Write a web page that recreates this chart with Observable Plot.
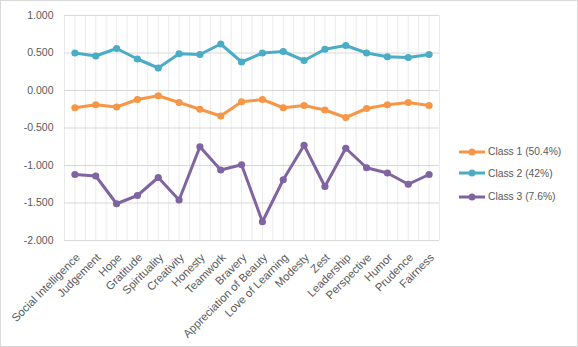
<!DOCTYPE html>
<html>
<head>
<meta charset="utf-8">
<script src="https://cdn.jsdelivr.net/npm/d3@7"></script>
<script src="https://cdn.jsdelivr.net/npm/@observablehq/plot@0.6"></script>
<style>
  html, body { margin: 0; padding: 0; background: #fff; }
  #wrap { position: relative; width: 578px; height: 347px; font-family: "Liberation Sans", Arial, sans-serif; }
  #frame { position: absolute; left: 0; top: 0; width: 576px; height: 345px; border: 1px solid #d9d9d9; pointer-events: none; }
  .leg { position: absolute; left: 458px; height: 14px; display: flex; align-items: center; font-size: 10.3px; color: #595959; white-space: nowrap; }
  .leg svg { margin-right: 2px; }
</style>
</head>
<body>
<div id="wrap"><div id="frame"></div></div>
<script>
const categories = ["Social Intelligence","Judgement","Hope","Gratitude","Spirituality","Creativity","Honesty","Teamwork","Bravery","Appreciation of Beauty","Love of Learning","Modesty","Zest","Leadership","Perspective","Humor","Prudence","Fairness"];
const seriesNames = ["Class 1 (50.4%)","Class 2 (42%)","Class 3 (7.6%)"];
const class1 = [-0.23,-0.19,-0.22,-0.12,-0.07,-0.16,-0.25,-0.34,-0.15,-0.12,-0.23,-0.20,-0.26,-0.36,-0.24,-0.19,-0.16,-0.20];
const class2 = [0.50,0.46,0.56,0.42,0.30,0.49,0.48,0.62,0.38,0.50,0.52,0.40,0.55,0.60,0.50,0.45,0.44,0.48];
const class3 = [-1.12,-1.14,-1.51,-1.40,-1.16,-1.46,-0.75,-1.06,-0.99,-1.75,-1.19,-0.73,-1.28,-0.77,-1.03,-1.10,-1.25,-1.12];
const colors = ["#F79646","#4BACC6","#8064A2"];
const yTicks = [1, 0.5, 0, -0.5, -1, -1.5, -2];

const seriesValues = [class1, class2, class3];
const data = [];
seriesValues.forEach((vals, s) => vals.forEach((v, i) => data.push({i, cat: categories[i], v, cls: seriesNames[s]})));

const n = categories.length;
const chart = Plot.plot({
  width: 578,
  height: 347,
  marginLeft: 64,
  marginRight: 139,
  marginTop: 15,
  marginBottom: 107,
  style: {fontFamily: '"Liberation Sans", Arial, sans-serif', fontSize: "10.5px", color: "#595959", background: "transparent"},
  x: {type: "linear", domain: [-0.5, n - 0.5], axis: null},
  y: {domain: [-2, 1], axis: null},
  color: {domain: seriesNames, range: colors},
  marks: [
    Plot.ruleX(d3.range(-0.5, n - 0.5 + 0.01, 0.5), {stroke: "#ebebeb", strokeWidth: 1}),
    Plot.ruleY(yTicks, {stroke: "#d9d9d9", strokeWidth: 1}),
    Plot.axisY({ticks: yTicks, tickFormat: d => d.toFixed(3), tickSize: 0, tickPadding: 11, fill: "#595959", label: null}),
    Plot.axisX({ticks: d3.range(n), tickFormat: i => categories[i], tickSize: 0, tickPadding: 12, rotate: -45, textAnchor: "end", fill: "#595959", fontSize: "11.3px", label: null}),
    Plot.line(data, {x: "i", y: "v", z: "cls", stroke: "cls", strokeWidth: 3, strokeLinejoin: "round", strokeLinecap: "round"}),
    Plot.dot(data, {x: "i", y: "v", fill: "cls", r: 3.6})
  ]
});
const wrap = document.getElementById("wrap");
wrap.insertBefore(chart, wrap.firstChild);

const legendY = [151.7, 173.3, 196.7];
seriesNames.forEach((name, k) => {
  const d = document.createElement("div");
  d.className = "leg";
  d.style.top = (legendY[k] - 7) + "px";
  d.innerHTML = `<svg width="28" height="10"><line x1="1" x2="27" y1="5" y2="5" stroke="${colors[k]}" stroke-width="3"/><circle cx="14" cy="5" r="3.5" fill="${colors[k]}"/></svg><span>${name}</span>`;
  wrap.appendChild(d);
});
</script>
</body>
</html>
